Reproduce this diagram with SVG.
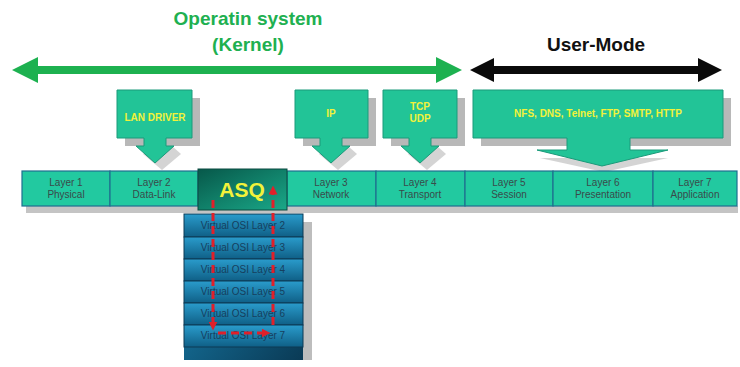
<svg xmlns="http://www.w3.org/2000/svg" width="740" height="367" viewBox="0 0 740 367">
<defs>
<style>
.title{font-family:"Liberation Sans",Arial,sans-serif;font-weight:bold;font-size:19px;text-anchor:middle}
.call{fill:#22c497;stroke:#1a9a7a;stroke-width:1}
.shadow{fill:#b8b8b8}
.ctext{font-family:"Liberation Sans",Arial,sans-serif;font-weight:bold;font-size:10px;fill:#f2f23a;text-anchor:middle}
.layer{fill:#22c9a0;stroke:#1f6f8f;stroke-width:1.2}
.ltext{font-family:"Liberation Sans",Arial,sans-serif;font-size:10px;fill:#3a4a4a;text-anchor:middle}
.vrow{fill:url(#vg);stroke:#0c3a55;stroke-width:1}
.vtext{font-family:"Liberation Sans",Arial,sans-serif;font-size:10px;fill:#16405e;text-anchor:middle}
.red{stroke:#e0202a;stroke-width:3;stroke-dasharray:8 5;fill:none}
</style>
<linearGradient id="vg" x1="0" y1="0" x2="0" y2="1">
<stop offset="0" stop-color="#2a9ccc"/>
<stop offset="1" stop-color="#0f5f86"/>
</linearGradient>
<linearGradient id="vbg" x1="0" y1="0" x2="1" y2="1">
<stop offset="0" stop-color="#1a88b8"/>
<stop offset="1" stop-color="#0a3a55"/>
</linearGradient>
<linearGradient id="asq" x1="0" y1="0" x2="1" y2="1">
<stop offset="0" stop-color="#07584a"/>
<stop offset="1" stop-color="#1aa888"/>
</linearGradient>
<marker id="rh" viewBox="0 0 10 10" refX="5" refY="5" markerWidth="3" markerHeight="3" orient="auto">
<path d="M0,0 L10,5 L0,10 z" fill="#e0202a"/>
</marker>
</defs>
<rect width="740" height="367" fill="#ffffff"/>

<g id="titles">
<text class="title" x="248" y="25" fill="#20b050">Operatin system</text>
<text class="title" x="248" y="51" fill="#20b050">(Kernel)</text>
<text class="title" x="596" y="51" fill="#111111">User-Mode</text>
</g>

<g id="connectors">
<path d="M12,70 L38,57 L38,66 L436,66 L436,57 L462,70 L436,83 L436,74 L38,74 L38,83 z" fill="#1db150"/>
<path d="M470,70 L494,58 L494,66 L698,66 L698,58 L722,70 L698,82 L698,74 L494,74 L494,82 z" fill="#0a0a0a"/>
</g>

<g id="lan-driver">
<rect class="shadow" x="125" y="98" width="75" height="48"/>
<path class="shadow" d="M152,146 L172,146 L181,154 L162,170 L143,154 z" opacity="0.6"/>
<path class="call" d="M117,90 L192,90 L192,138 L166,138 L166,146 L174,146 L155,163 L136,146 L144,146 L144,138 L117,138 z"/>
<text class="ctext" x="155" y="121">LAN DRIVER</text>
</g>

<g id="ip">
<rect class="shadow" x="303" y="98" width="73" height="48"/>
<path class="shadow" d="M328,146 L348,146 L357,154 L338,170 L319,154 z" opacity="0.6"/>
<path class="call" d="M295,90 L368,90 L368,138 L342,138 L342,146 L350,146 L331,163 L312,146 L320,146 L320,138 L295,138 z"/>
<text class="ctext" x="331" y="117">IP</text>
</g>

<g id="tcp-udp">
<rect class="shadow" x="391" y="98" width="74" height="48"/>
<path class="shadow" d="M417,146 L437,146 L446,154 L427,170 L408,154 z" opacity="0.6"/>
<path class="call" d="M383,90 L457,90 L457,138 L431,138 L431,146 L439,146 L420,163 L401,146 L409,146 L409,138 L383,138 z"/>
<text class="ctext" x="420" y="110">TCP</text>
<text class="ctext" x="420" y="122">UDP</text>
</g>

<g id="apps">
<rect class="shadow" x="481" y="98" width="250" height="48"/>
<path class="shadow" d="M540,158 L668,158 L604,172 z" opacity="0.6"/>
<path class="call" d="M473,90 L723,90 L723,138 L630,138 L630,150 L668,150 L602,166 L537,150 L567,150 L567,138 L473,138 z"/>
<text class="ctext" x="598" y="117">NFS, DNS, Telnet, FTP, SMTP, HTTP</text>
</g>

<g id="layer-bar">
<rect x="26" y="206" width="712" height="7" fill="#c4c4c4"/>
<rect class="layer" x="22" y="171" width="88" height="35"/>
<rect class="layer" x="110" y="171" width="88" height="35"/>
<rect class="layer" x="287" y="171" width="89" height="35"/>
<rect class="layer" x="376" y="171" width="89" height="35"/>
<rect class="layer" x="465" y="171" width="88" height="35"/>
<rect class="layer" x="553" y="171" width="100" height="35"/>
<rect class="layer" x="653" y="171" width="84" height="35"/>
<text class="ltext" x="66" y="186">Layer 1</text><text class="ltext" x="66" y="198">Physical</text>
<text class="ltext" x="154" y="186">Layer 2</text><text class="ltext" x="154" y="198">Data-Link</text>
<text class="ltext" x="331" y="186">Layer 3</text><text class="ltext" x="331" y="198">Network</text>
<text class="ltext" x="420" y="186">Layer 4</text><text class="ltext" x="420" y="198">Transport</text>
<text class="ltext" x="509" y="186">Layer 5</text><text class="ltext" x="509" y="198">Session</text>
<text class="ltext" x="603" y="186">Layer 6</text><text class="ltext" x="603" y="198">Presentation</text>
<text class="ltext" x="695" y="186">Layer 7</text><text class="ltext" x="695" y="198">Application</text>
</g>

<g id="asq">
<rect x="198" y="169" width="89" height="41" fill="url(#asq)" stroke="#0a4a40" stroke-width="1"/>
<text x="242" y="197" font-family="'Liberation Sans',Arial,sans-serif" font-weight="bold" font-size="21" fill="#f2f23a" text-anchor="middle">ASQ</text>
</g>

<g id="virtual-stack">
<rect x="303" y="222" width="9" height="138" fill="#bdbdbd"/>
<rect x="184" y="214" width="119" height="146" fill="url(#vbg)"/>
<rect class="vrow" x="184" y="214" width="119" height="23"/>
<rect class="vrow" x="184" y="237" width="119" height="22"/>
<rect class="vrow" x="184" y="259" width="119" height="22"/>
<rect class="vrow" x="184" y="281" width="119" height="22"/>
<rect class="vrow" x="184" y="303" width="119" height="22"/>
<rect class="vrow" x="184" y="325" width="119" height="22" stroke="none"/>
<text class="vtext" x="243" y="229">Virtual OSI Layer 2</text>
<text class="vtext" x="243" y="251">Virtual OSI Layer 3</text>
<text class="vtext" x="243" y="273">Virtual OSI Layer 4</text>
<text class="vtext" x="243" y="295">Virtual OSI Layer 5</text>
<text class="vtext" x="243" y="317">Virtual OSI Layer 6</text>
<text class="vtext" x="243" y="339">Virtual OSI Layer 7</text>
</g>

<g id="red-path">
<path class="red" d="M213,200 L213,326" marker-end="url(#rh)"/>
<path class="red" d="M218,333 L266,333" marker-end="url(#rh)"/>
<path class="red" d="M273,325 L273,190" marker-end="url(#rh)"/>
</g>
</svg>
